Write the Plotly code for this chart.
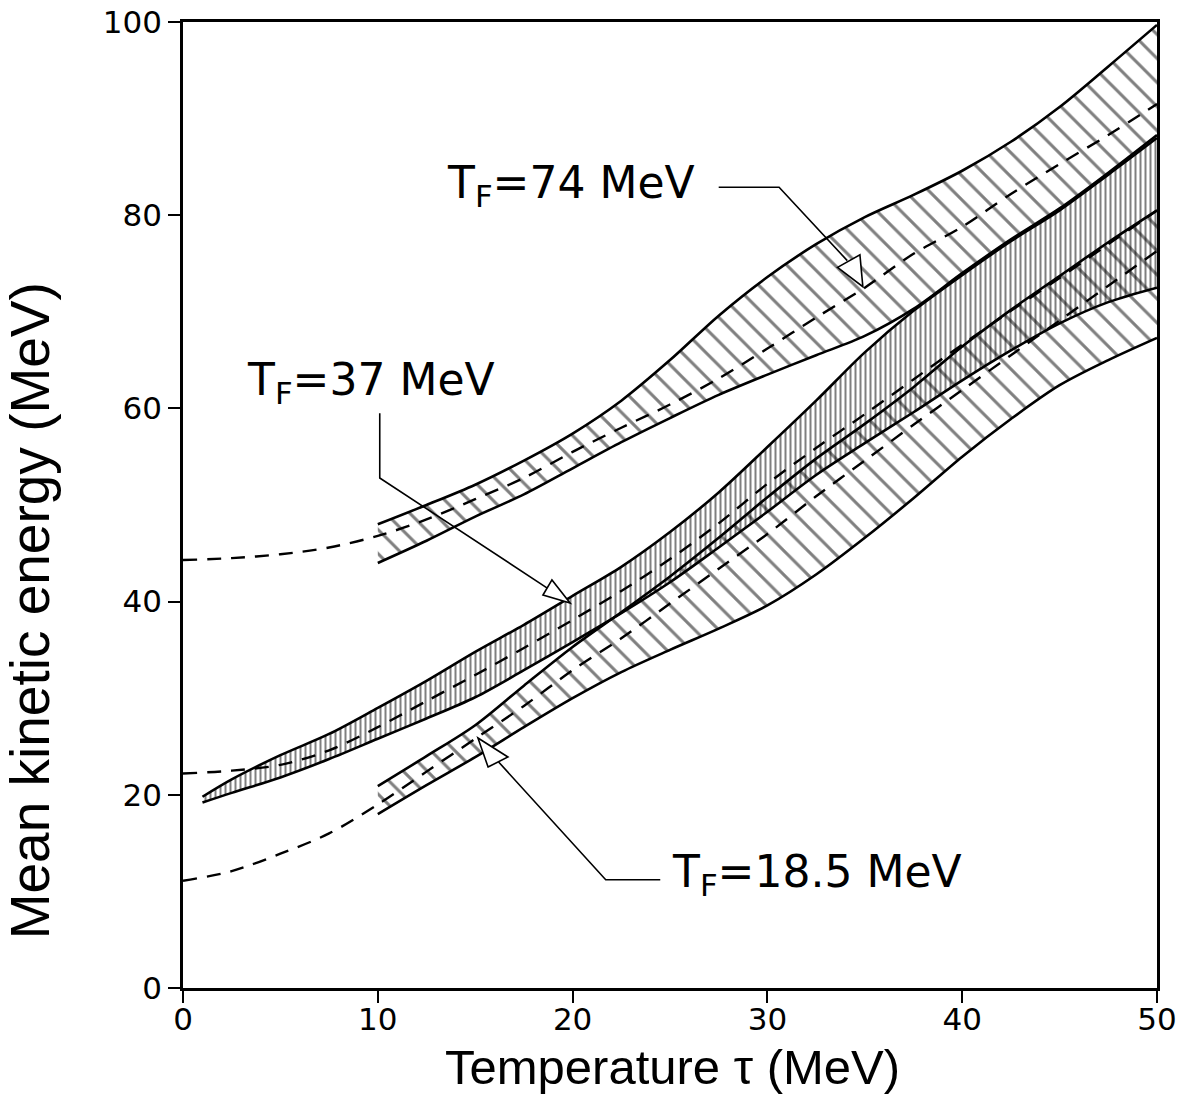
import plotly.graph_objects as go

# Temperature grid (MeV) for the bands that start at tau = 10 MeV
x_band = [10, 12.5, 15, 17.5, 20, 22.5, 25, 27.5, 30, 32.5, 35, 37.5, 40, 42.5, 45, 47.5, 50]
# Temperature grid for the T_F = 37 MeV band (starts at tau = 1 MeV)
x_band37 = [1, 2.5, 5, 7.5, 10, 12.5, 15, 17.5, 20, 22.5, 25, 27.5, 30, 32.5, 35, 37.5, 40, 42.5, 45, 47.5, 50]
# Temperature grid for the dashed central curves
x_curve = [0, 2.5, 5, 7.5, 10, 12.5, 15, 17.5, 20, 22.5, 25, 27.5, 30, 32.5, 35, 37.5, 40, 42.5, 45, 47.5, 50]

# T_F = 74 MeV
upper_74 = [48.0, 50.0, 52.1, 54.6, 57.4, 60.8, 65.0, 69.6, 73.6, 77.0, 79.8, 82.1, 84.6, 87.6, 91.2, 95.4, 99.7]
lower_74 = [44.0, 46.3, 48.8, 51.1, 53.8, 56.5, 59.0, 61.4, 63.5, 65.5, 67.5, 70.3, 74.0, 77.5, 80.7, 84.4, 88.3]
center_74 = [44.3, 44.5, 44.9, 45.6, 46.8, 48.5, 50.6, 52.8, 55.5, 58.0, 60.4, 63.1, 66.2, 69.4, 72.5,
             76.0, 78.8, 82.2, 85.3, 88.3, 91.5]

# T_F = 37 MeV
upper_37 = [19.8, 21.6, 24.1, 26.3, 29.0, 31.8, 34.8, 37.6, 40.6, 43.6, 47.2, 51.3, 56.0, 60.8, 65.8,
            70.1, 73.8, 77.3, 80.5, 84.2, 88.0]
lower_37 = [19.2, 20.2, 21.8, 23.7, 25.8, 27.9, 30.1, 32.9, 35.8, 38.8, 42.0, 45.6, 49.3, 53.1, 56.4,
            59.6, 62.9, 66.0, 68.8, 71.0, 72.5]
center_37 = [22.2, 22.5, 23.1, 24.6, 27.0, 29.7, 32.4, 35.2, 38.1, 41.1, 44.4, 48.1, 52.2, 55.9, 59.4,
             63.0, 66.6, 70.1, 73.5, 77.0, 80.5]

# T_F = 18.5 MeV
upper_18 = [20.9, 24.0, 27.2, 31.3, 35.3, 38.9, 42.6, 46.6, 50.8, 54.8, 58.4, 62.2, 66.4, 70.2, 73.7, 77.2, 80.5]
lower_18 = [18.0, 21.0, 23.9, 27.0, 30.0, 32.7, 35.0, 37.2, 39.6, 42.8, 46.6, 50.7, 55.0, 58.9, 62.4, 65.0, 67.3]
center_18 = [11.1, 12.1, 13.9, 16.0, 19.0, 22.4, 25.8, 29.2, 32.9, 36.2, 39.8, 43.4, 47.0, 50.9, 54.6,
             58.3, 61.9, 65.5, 69.1, 72.7, 76.3]

x_ticks = [0, 10, 20, 30, 40, 50]
y_ticks = [0, 20, 40, 60, 80, 100]

EDGE = dict(color="black", width=2.6, shape="spline", smoothing=0.9)
DASH = dict(color="black", width=2.4, dash="14px,10px", shape="spline", smoothing=0.9)
CLEAR = "rgba(0,0,0,0)"

fig = go.Figure()


def add_band(xs, lo, hi, shape, size, solidity):
    fig.add_trace(go.Scatter(x=xs, y=lo, mode="lines", line=EDGE, hoverinfo="skip"))
    fig.add_trace(go.Scatter(
        x=xs, y=hi, mode="lines", line=EDGE, fill="tonexty", fillcolor=CLEAR,
        fillpattern=dict(shape=shape, size=size, solidity=solidity,
                         fgcolor="black", bgcolor=CLEAR),
        hoverinfo="skip"))


add_band(x_band, lower_74, upper_74, "\\", 17, 0.18)
add_band(x_band37, lower_37, upper_37, "|", 5, 0.4)
add_band(x_band, lower_18, upper_18, "\\", 17, 0.18)

for yc in (center_74, center_37, center_18):
    fig.add_trace(go.Scatter(x=x_curve, y=yc, mode="lines", line=DASH, hoverinfo="skip"))

# Leader lines with open triangular arrowheads pointing at each band
LEAD = dict(color="black", width=1.6)
leaders = [
    "M 27.5,82.9 L 30.6,82.9 L 34.1,75.3",
    "M 10.1,59.5 L 10.1,52.8 L 18.7,41.4",
    "M 24.5,11.2 L 21.7,11.2 L 16.2,23.4",
]
heads = [
    "M 33.6,74.6 L 34.75,75.9 L 34.9,72.6 Z",
    "M 18.48,40.68 L 18.94,42.24 L 19.87,39.86 Z",
    "M 15.66,22.88 L 16.68,23.91 L 15.14,25.88 Z",
]
for p in leaders:
    fig.add_shape(type="path", path=p, xref="x", yref="y", line=LEAD)
for p in heads:
    fig.add_shape(type="path", path=p, xref="x", yref="y", line=LEAD, fillcolor="white")

LABEL_FONT = dict(family="DejaVu Sans", size=44, color="black")
labels = [
    (13.45, 83.1, "T<sub>F</sub>=74 MeV"),
    (3.2, 62.7, "T<sub>F</sub>=37 MeV"),
    (25.0, 11.8, "T<sub>F</sub>=18.5 MeV"),
]
for lx, ly, txt in labels:
    fig.add_annotation(x=lx, y=ly, xref="x", yref="y", text=txt, showarrow=False,
                       xanchor="left", yanchor="middle", font=LABEL_FONT)

# Axis titles
fig.add_annotation(x=0.503, y=-0.082, xref="paper", yref="paper", text="Temperature τ (MeV)",
                   showarrow=False, xanchor="center", yanchor="middle",
                   font=dict(family="Liberation Sans", size=49, color="black"))
fig.add_annotation(x=-0.157, y=0.39, xref="paper", yref="paper", text="Mean kinetic energy (MeV)",
                   showarrow=False, textangle=-90, xanchor="center", yanchor="middle",
                   font=dict(family="Liberation Sans", size=55, color="black"))

AX = dict(showgrid=False, zeroline=False, showline=True, linecolor="black", linewidth=2.6,
          mirror=True, ticks="outside", ticklen=12, tickwidth=1.6, tickcolor="black",
          automargin=False,
          tickfont=dict(family="DejaVu Sans", size=31, color="black"))

fig.update_layout(
    width=1185, height=1108,
    margin=dict(l=183, r=28, t=22, b=120),
    paper_bgcolor="white", plot_bgcolor="white",
    showlegend=False,
    xaxis=dict(range=[0, 50], tickvals=x_ticks, ticklabelstandoff=-10, **AX),
    yaxis=dict(range=[0, 100], tickvals=y_ticks, **AX),
)

fig.write_html("out.html")
